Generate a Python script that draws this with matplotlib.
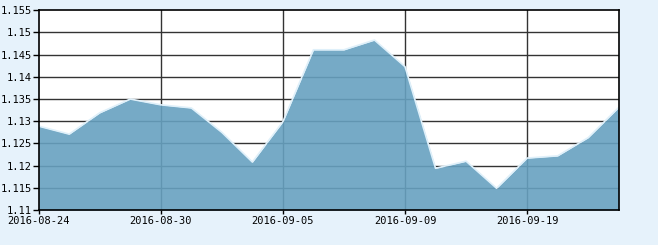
import matplotlib
matplotlib.use("Agg")
import matplotlib.pyplot as plt
import numpy as np

dates = ["2016-08-24", "2016-08-25", "2016-08-26", "2016-08-29", "2016-08-30",
         "2016-08-31", "2016-09-01", "2016-09-02", "2016-09-05", "2016-09-06",
         "2016-09-07", "2016-09-08", "2016-09-09", "2016-09-12", "2016-09-13",
         "2016-09-14", "2016-09-19", "2016-09-20", "2016-09-21", "2016-09-22"]
values = [1.1289, 1.1271, 1.1319, 1.1350, 1.1337,
          1.1330, 1.1275, 1.1208, 1.1299, 1.1461,
          1.1461, 1.1483, 1.1423, 1.1194, 1.1210,
          1.1149, 1.1217, 1.1222, 1.1263, 1.1331]
yticks = [1.11, 1.115, 1.12, 1.125, 1.13, 1.135, 1.14, 1.145, 1.15, 1.155]
ytick_labels = ["1.11", "1.115", "1.12", "1.125", "1.13", "1.135", "1.14", "1.145", "1.15", "1.155"]
xtick_idx = [0, 4, 8, 12, 16]

bg = "#e6f2fb"
fig = plt.figure(figsize=(6.58, 2.45), dpi=100, facecolor=bg)
ax = fig.add_axes([38.7/658, 35/245, 580/658, 199.7/245])
ax.set_facecolor("white")

x = np.arange(len(values))
ax.set_xlim(0, len(values) - 1)
ax.set_ylim(1.11, 1.155)

for yv in yticks[1:-1]:
    ax.axhline(yv, color="#333333", lw=1.0, zorder=1)
for i in xtick_idx[1:]:
    ax.axvline(i, color="#333333", lw=1.0, zorder=1)

ax.fill_between(x, values, 1.11, color="#67a1c0", alpha=0.9, lw=0, zorder=2)
ax.plot(x, values, color="#dff0fa", lw=1.2, zorder=3)

ax.set_yticks(yticks)
ax.set_yticklabels(ytick_labels, fontfamily="DejaVu Sans Mono", fontsize=7.5)
ax.set_xticks(xtick_idx)
ax.set_xticklabels([dates[i] for i in xtick_idx], fontfamily="DejaVu Sans Mono", fontsize=7.5)
ax.tick_params(axis="y", direction="out", length=4, width=1, color="black", pad=1)
ax.tick_params(axis="x", direction="out", length=3, width=1, color="black", pad=1)

for s in ax.spines.values():
    s.set_color("black")
    s.set_linewidth(1.2)
    s.set_zorder(4)

fig.savefig("out.png", dpi=100, facecolor=bg)
